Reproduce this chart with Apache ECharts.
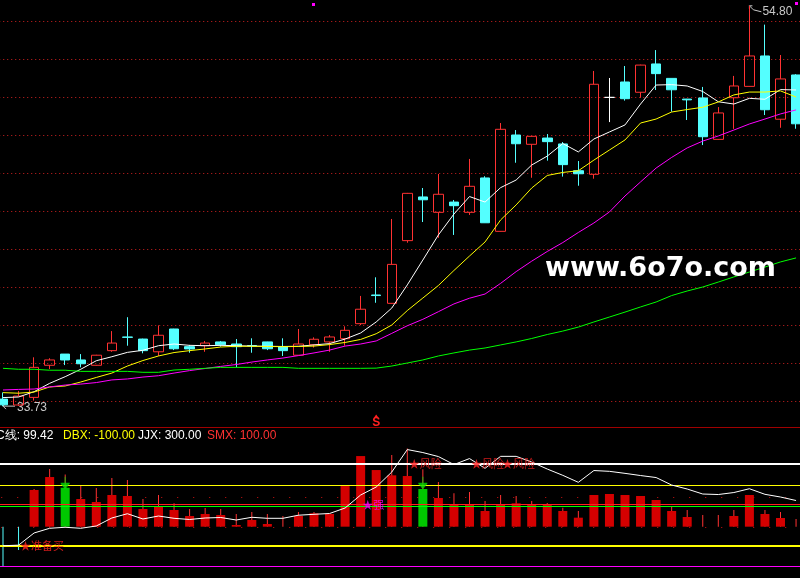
<!DOCTYPE html>
<html><head><meta charset="utf-8">
<script src="https://cdn.jsdelivr.net/npm/echarts@6/dist/echarts.min.js"></script>
<style>html,body{margin:0;padding:0;background:#000;}#c{width:800px;height:578px;background:#000;}</style>
</head><body><div id="c"></div>
<script>
// ---------------- DATA ----------------
const categories = ['D01','D02','D03','D04','D05','D06','D07','D08','D09','D10','D11','D12','D13','D14','D15','D16','D17','D18','D19','D20','D21','D22','D23','D24','D25','D26','D27','D28','D29','D30','D31','D32','D33','D34','D35','D36','D37','D38','D39','D40','D41','D42','D43','D44','D45','D46','D47','D48','D49','D50','D51','D52'];
const opens  = [34.10,33.79,34.19,35.88,36.47,36.16,35.88,36.65,37.37,37.26,36.59,37.79,36.86,36.91,37.11,37.00,36.92,37.11,36.86,36.41,36.96,37.11,37.28,38.07,39.58,39.14,42.44,44.74,43.93,44.47,43.93,45.74,42.93,48.00,47.51,47.84,47.53,46.12,45.93,49.98,50.79,50.25,51.74,50.98,49.89,49.95,47.77,49.96,50.56,52.16,48.83,51.16];
const closes = [33.80,34.26,35.77,36.16,36.16,35.96,36.41,37.05,37.35,36.65,37.46,36.75,36.74,37.05,36.96,36.86,36.90,36.75,36.65,37.00,37.25,37.37,37.72,38.83,39.55,41.19,44.93,44.59,44.88,44.28,45.30,43.38,48.30,47.54,47.93,47.65,46.44,45.96,50.67,49.98,49.91,51.68,51.23,50.38,49.85,47.91,49.16,50.58,52.16,49.33,50.95,48.59];
const lows   = [33.73,33.74,34.02,35.68,35.89,35.77,35.86,36.59,36.91,36.51,36.37,36.68,36.54,36.59,36.86,35.77,36.54,36.68,36.37,36.40,36.81,36.59,36.91,38.00,39.17,39.12,42.33,43.42,42.59,42.74,43.79,43.37,42.92,46.54,45.75,46.65,45.81,45.33,45.70,48.68,49.81,49.96,50.37,49.23,48.79,47.47,47.75,48.32,50.55,49.05,48.38,48.33];
const highs  = [34.45,34.53,36.30,36.25,36.47,36.47,36.43,37.68,38.41,37.28,37.98,37.80,36.95,37.16,37.16,37.26,37.30,37.12,37.30,37.79,37.35,37.47,37.93,39.53,40.51,43.58,44.95,45.21,45.95,44.58,46.74,45.83,48.63,48.26,47.95,48.05,47.63,46.63,51.37,51.00,51.63,51.70,52.47,50.98,49.90,50.53,49.47,51.11,54.80,53.81,52.21,51.20];
const ma5  = [34.18,34.21,34.49,34.93,35.28,35.67,36.12,36.33,36.56,36.67,36.91,37.00,36.93,36.91,36.93,36.91,36.89,36.88,36.87,36.88,36.95,37.02,37.26,37.58,38.16,38.89,40.11,41.42,42.74,43.84,44.76,44.47,45.23,45.63,46.42,46.89,47.55,47.11,47.79,48.16,48.53,49.63,50.63,50.65,50.58,50.29,49.75,49.63,49.93,49.88,50.39,50.37];
const ma10 = [34.44,34.41,34.47,34.74,34.79,35.00,35.24,35.47,35.84,36.13,36.37,36.55,36.65,36.74,36.84,36.88,36.88,36.87,36.86,36.87,36.89,36.97,37.08,37.24,37.54,38.00,38.76,39.42,40.08,40.87,41.63,42.37,43.53,44.32,45.21,45.87,46.03,46.12,46.68,47.21,47.74,48.63,48.84,49.21,49.34,49.46,49.74,50.11,50.26,50.26,50.32,50.00];
const ma20 = [34.58,34.61,34.63,34.74,34.84,34.89,34.97,35.11,35.16,35.26,35.33,35.47,35.60,35.71,35.82,35.92,36.05,36.16,36.26,36.39,36.53,36.68,36.89,37.00,37.16,37.56,37.96,38.30,38.70,39.11,39.41,39.63,40.19,40.81,41.36,41.87,42.34,42.87,43.37,43.95,44.79,45.53,46.26,46.82,47.32,47.68,47.95,48.26,48.58,48.84,49.11,49.32];
const ma60 = [35.72,35.67,35.67,35.62,35.62,35.56,35.56,35.56,35.56,35.51,35.51,35.63,35.67,35.72,35.77,35.77,35.77,35.77,35.77,35.72,35.72,35.72,35.72,35.72,35.73,35.84,36.00,36.16,36.37,36.53,36.68,36.79,36.95,37.11,37.29,37.50,37.68,37.89,38.16,38.42,38.68,38.95,39.21,39.55,39.79,40.00,40.26,40.53,40.79,41.05,41.32,41.53];
const priceMin = 32, priceMax = 56, priceStep = 2;
const hiMark = { index: 48, value: 54.80 };
const loMark = { index: 0, value: 33.73 };

// lower indicator panel
const headerNames  = ['C线', 'DBX', 'JJX', 'SMX'];
const headerValues = [99.42, -100.00, 300.00, 100.00];
const cLine = [-100,-97,-37.7,-14.8,-9.9,-14.8,-3.6,35.4,56.3,30.5,45.1,33.9,28.1,35.4,37.8,25.6,38.8,33.9,33.9,49.0,53.4,57.3,84.1,147.5,186.5,259.6,369.2,354.6,335.1,296.1,325.3,277.6,336.1,336.1,308.3,274.2,243.5,209.4,266.9,263.0,253.2,242.5,232.7,196.2,176.7,152.3,149.9,159.6,178.2,150.9,137.7,120.7];
const barBody = [null,null,178.9,242.2,190.0,135.0,120.4,154.5,149.6,86.3,100.9,81.4,52.1,61.9,57.0,8.3,32.7,13.2,null,52.1,65.3,61.9,198.3,344.5,276.3,250.5,247.1,183.7,139.9,105.8,105.8,76.5,105.8,114.0,105.8,105.8,76.5,43.9,154.5,159.4,154.5,149.6,130.1,76.5,47.3,null,null,52.1,154.5,61.9,42.4,null];
const barWick = [-195,-113.5,183.7,281.2,254,199.8,188.6,237.3,227.6,135,154.5,114,86.3,91.1,86.3,61.9,71.6,61.9,52.1,71.6,71.6,62,null,null,null,349.4,382,279.7,217.8,162.8,169.1,125.2,154.5,149.6,125.2,115.5,92.6,76.5,null,null,null,null,null,96,81.4,57,57,81.4,null,81.4,71.6,37];
const greenBars = [4, 27];
const arrowIdx = [4, 27];
const arrowVal = [214, 214];
const levelSolid  = [300, 195, 102, 95, -100, -200];
const levelDotted = [146, -5];
const signalIdx  = [1, 23, 26, 30, 32];
const signalVal  = [-100, 100, 300, 300, 300];
const signalText = ['★准备买', '★强', '★风险', '★风险', '★风险'];
const sMarkIdx = 24;

// ---------------- STYLE ----------------
const UP = '#ff3232', DOWN = '#54ffff';
const uiFont = '"Liberation Sans","Arial",sans-serif';
const cjk = '"Noto Sans CJK SC","Noto Sans",sans-serif';
const levelStyles = [
  {color:'#ffffff', width:2}, {color:'#ffff00', width:1}, {color:'#ff2020', width:1},
  {color:'#00ff00', width:1}, {color:'#ffff00', width:2}, {color:'#ff00ff', width:1}
];
const headerColors = ['#ffffff', '#ffff00', '#ffffff', '#ff3232'];
const headerX = [-4, 63, 138, 207];

const chart = echarts.init(document.getElementById('c'), null, {renderer:'canvas'});
const gridL = -4.775, gridR = -3.825;

const candleData = opens.map((o, i) => [o, closes[i], lows[i], highs[i]]);
const bodyData = barBody.map((v, i) => v == null ? '-' : {value: v, itemStyle: {color: greenBars.indexOf(i) >= 0 ? '#00c800' : '#d40000'}});
const wickData = barWick.map(v => v == null ? '-' : {value: v, itemStyle: {color: v < 0 ? DOWN : UP}});
const arrowData = arrowIdx.map((x, k) => [x, arrowVal[k]]);
const signalData = signalIdx.map((x, k) => ({
  value: [x, signalVal[k]],
  label: {formatter: signalText[k], color: signalText[k] === '★强' ? '#ff00ff' : '#ff2020'}
}));

function maSeries(data, color) {
  return {type:'line', xAxisIndex:0, yAxisIndex:0, data, showSymbol:false, symbol:'none', z:3,
    lineStyle:{color, width:1}, silent:true};
}

const option = {
  backgroundColor: '#000',
  animation: false,
  grid: [
    {left: gridL, right: gridR, top: -17, height: 456, outerBoundsMode: 'none', containLabel: false},
    {left: gridL, right: gridR, top: 443.25, height: 133.25, outerBoundsMode: 'none', containLabel: false}
  ],
  xAxis: [
    {type:'category', gridIndex:0, data:categories, boundaryGap:true, show:false},
    {type:'category', gridIndex:1, data:categories, boundaryGap:true, show:false},
    {type:'category', gridIndex:1, data:categories, boundaryGap:true, show:false}
  ],
  yAxis: [
    {type:'value', gridIndex:0, min:priceMin, max:priceMax, interval:priceStep, scale:true,
      axisLine:{show:false}, axisTick:{show:false}, axisLabel:{show:false},
      splitLine:{show:true, showMinLine:false, showMaxLine:false, lineStyle:{color:'#d02020', type:[1,3], width:1}}},
    {type:'value', gridIndex:1, min:-250, max:400, show:false, splitLine:{show:false}},
    {type:'value', gridIndex:1, min:-243, max:407, show:false, splitLine:{show:false}}
  ],
  series: [
    {type:'candlestick', xAxisIndex:0, yAxisIndex:0, data:candleData, barWidth:10, z:2, silent:true,
      itemStyle:{color:'rgba(0,0,0,0)', color0:DOWN, borderColor:UP, borderColor0:DOWN, borderColorDoji:'#ffffff', borderWidth:1}},
    maSeries(ma5, '#ffffff'),
    maSeries(ma10, '#ffff00'),
    maSeries(ma20, '#ff00ff'),
    maSeries(ma60, '#00ff00'),
    {type:'bar', xAxisIndex:2, yAxisIndex:2, data:wickData, barWidth:1, z:2, silent:true, clip:false},
    {type:'bar', xAxisIndex:1, yAxisIndex:2, data:bodyData, barWidth:9, z:2, silent:true, clip:false,
      markLine:{silent:true, symbol:'none', z:1, label:{show:false},
        data: levelDotted.map(v => ({yAxis: v, lineStyle:{color:'#d01010', type:[1,15], dashOffset:10, width:1}}))}},
    {type:'line', xAxisIndex:1, yAxisIndex:1, data:cLine, showSymbol:false, symbol:'none', z:5, clip:false, silent:true,
      lineStyle:{color:'#ffffff', width:1},
      markLine:{silent:true, symbol:'none', z:4, label:{show:false},
        data: levelSolid.map((v, k) => ({yAxis: v, lineStyle:{color:levelStyles[k].color, width:levelStyles[k].width, type:'solid'}}))}},
    {type:'scatter', xAxisIndex:1, yAxisIndex:2, data:arrowData, z:6, silent:true,
      symbol:'path://M4,0 L5,0 L5,6 L9,6 L9,7 L5,12 L4,12 L0,7 L0,6 L4,6 Z', symbolSize:[9,12],
      itemStyle:{color:'#00e000'}},
    {type:'scatter', xAxisIndex:1, yAxisIndex:1, data:signalData, z:10, silent:true, symbolSize:1,
      itemStyle:{color:'rgba(0,0,0,0)'},
      label:{show:true, position:'right', distance:1, fontSize:11, fontFamily:cjk}}
  ]
};
chart.setOption(option);

// ---------------- annotations positioned through the axes ----------------
const pHi = chart.convertToPixel({gridIndex:0}, [hiMark.index, hiMark.value]);
const pLo = chart.convertToPixel({gridIndex:0}, [loMark.index, loMark.value]);
const pS  = chart.convertToPixel({gridIndex:1}, [sMarkIdx, 0]);
const labelColor = '#c8c8c8';
const graphic = [
  {type:'line', shape:{x1:0, y1:427.5, x2:800, y2:427.5}, style:{stroke:'#a00000', lineWidth:1}, silent:true},
  {type:'text', x:545, y:269, style:{text:'www.6o7o.com', fill:'#ffffff', font:'bold 27px "DejaVu Sans"', verticalAlign:'middle'}, silent:true, z:20},
  // high label
  {type:'polyline', shape:{points:[[pHi[0], pHi[1]], [pHi[0]+4, pHi[1]+4], [pHi[0]+12, pHi[1]+6]]}, style:{stroke:labelColor, lineWidth:1, fill:null}, silent:true},
  {type:'polyline', shape:{points:[[pHi[0]+3, pHi[1]], [pHi[0], pHi[1]], [pHi[0], pHi[1]+3]]}, style:{stroke:labelColor, lineWidth:1, fill:null}, silent:true},
  {type:'text', x:pHi[0]+13, y:pHi[1]+6, style:{text:hiMark.value.toFixed(2), fill:labelColor, font:'12px ' + uiFont, verticalAlign:'middle'}, silent:true},
  // low label
  {type:'polyline', shape:{points:[[pLo[0], pLo[1]], [pLo[0]+12, pLo[1]]]}, style:{stroke:labelColor, lineWidth:1, fill:null}, silent:true},
  {type:'polyline', shape:{points:[[pLo[0]+3, pLo[1]-3], [pLo[0], pLo[1]], [pLo[0]+3, pLo[1]+3]]}, style:{stroke:labelColor, lineWidth:1, fill:null}, silent:true},
  {type:'text', x:pLo[0]+14, y:pLo[1]+2, style:{text:loMark.value.toFixed(2), fill:labelColor, font:'12px ' + uiFont, verticalAlign:'middle'}, silent:true},
  // small markers
  {type:'rect', shape:{x:312, y:3, width:3, height:3}, style:{fill:'#ff00ff'}, silent:true},
  {type:'rect', shape:{x:795, y:2, width:3, height:3}, style:{fill:'#ff00ff'}, silent:true, z:30},
  {type:'polygon', shape:{points:[[pS[0]-2.5, 418], [pS[0], 414.5], [pS[0]+2.5, 418]]}, style:{fill:'#ff2020'}, silent:true},
  {type:'text', x:pS[0], y:422.5, style:{text:'S', fill:'#ff2020', font:'bold 12px "Liberation Sans"', align:'center', verticalAlign:'middle'}, silent:true}
];
headerNames.forEach((n, k) => {
  graphic.push({type:'text', x:headerX[k], y:436, style:{text: n + ': ' + headerValues[k].toFixed(2), fill:headerColors[k], font:'12px ' + uiFont, verticalAlign:'middle'}, silent:true});
});
chart.setOption({graphic});
</script>
</body></html>
